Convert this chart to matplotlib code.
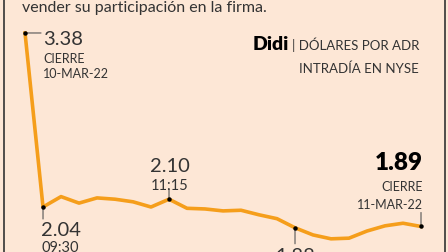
import matplotlib
matplotlib.use("Agg")
import matplotlib.pyplot as plt

# Didi ADR, NYSE: previous close (10-mar-22) followed by 15-minute intraday prices (11-mar-22)
steps = list(range(-1, 22))
prices = [3.38, 2.04, 2.12, 2.07, 2.11, 2.10, 2.08, 2.04, 2.10, 2.03, 2.025, 2.01,
          2.015, 1.98, 1.95, 1.88, 1.825, 1.795, 1.80, 1.855, 1.895, 1.915, 1.89]

BG = "#FDE7D6"
ORANGE = "#F59E1B"
DARK = "#333333"
FONT = "Lato"

W, H = 448, 252
fig = plt.figure(figsize=(W / 100, H / 100), dpi=100, facecolor=BG)
ax = fig.add_axes([0, 0, 1, 1])
ax.set_facecolor(BG)
ax.set_xlim(-2.39, 22.5)
ax.set_ylim(1.6935, 3.634)
ax.axis("off")

ax.plot(steps, prices, color=ORANGE, lw=2.6, solid_joinstyle="round", zorder=2)


def mark(i, label_lines, dx, dy, ha, lead):
    x, y = steps[i], prices[i]
    ax.plot(x, y, "o", color="black", ms=2.2, zorder=4)
    # leader line, in pixel offsets
    lx, ly = lead
    ax.annotate("", xy=(x, y), xytext=(lx, ly), textcoords="offset pixels",
                arrowprops=dict(arrowstyle="-", color="#555555", lw=0.8,
                                shrinkA=0, shrinkB=0))
    for txt, off, size, weight, col in label_lines:
        ax.annotate(txt, xy=(x, y), xytext=(dx, dy - off), textcoords="offset pixels",
                    ha=ha, va="baseline", fontsize=size, fontweight=weight,
                    color=col, family=FONT, annotation_clip=False)


# previous close
mark(0, [("3.38", 12, 14.5, "normal", DARK),
         ("CIERRE", 30, 9, "normal", DARK),
         ("10-MAR-22", 45, 9, "normal", DARK)], 18, 0, "left", (16, 0))
# open
mark(1, [("2.04", 29, 14.5, "normal", DARK),
         ("09:30", 45, 10.5, "normal", DARK)], -2, 0, "left", (0, -12))
# 11:15
mark(8, [("2.10", -27, 14.5, "normal", DARK),
         ("11:15", -9, 10.5, "normal", DARK)], 1, 0, "center", (0, 10))
# low
mark(15, [("1.88", 34, 14.5, "normal", DARK)], 0, 0, "center", (0, -16))
# close
mark(22, [("1.89", -56, 17.5, "heavy", "black"),
          ("CIERRE", -35, 9, "normal", DARK),
          ("11-MAR-22", -17, 9, "normal", DARK)], 2, 0, "right", (0, 14))

# header texts
fig.text(22 / W, 1 - 12 / H, "vender su participación en la firma.",
         fontsize=11.5, color=DARK, family=FONT, va="baseline")
fig.text(253 / W, 1 - 50 / H, "Didi", fontsize=14, fontweight="heavy",
         color="black", family=FONT, va="baseline")
fig.text(419 / W, 1 - 50 / H, "| DÓLARES POR ADR", fontsize=9.5, color=DARK,
         family=FONT, va="baseline", ha="right")
fig.text(419 / W, 1 - 73 / H, "INTRADÍA EN NYSE", fontsize=9.5, color=DARK,
         family=FONT, va="baseline", ha="right")

# frame lines at the sides
fig.add_artist(plt.Line2D([3.5 / W, 3.5 / W], [0, 1], color="#333333", lw=1.2))
fig.add_artist(plt.Line2D([444.5 / W, 444.5 / W], [0, 1], color="#333333", lw=1.2))

fig.savefig("out.png", dpi=100, facecolor=BG)
